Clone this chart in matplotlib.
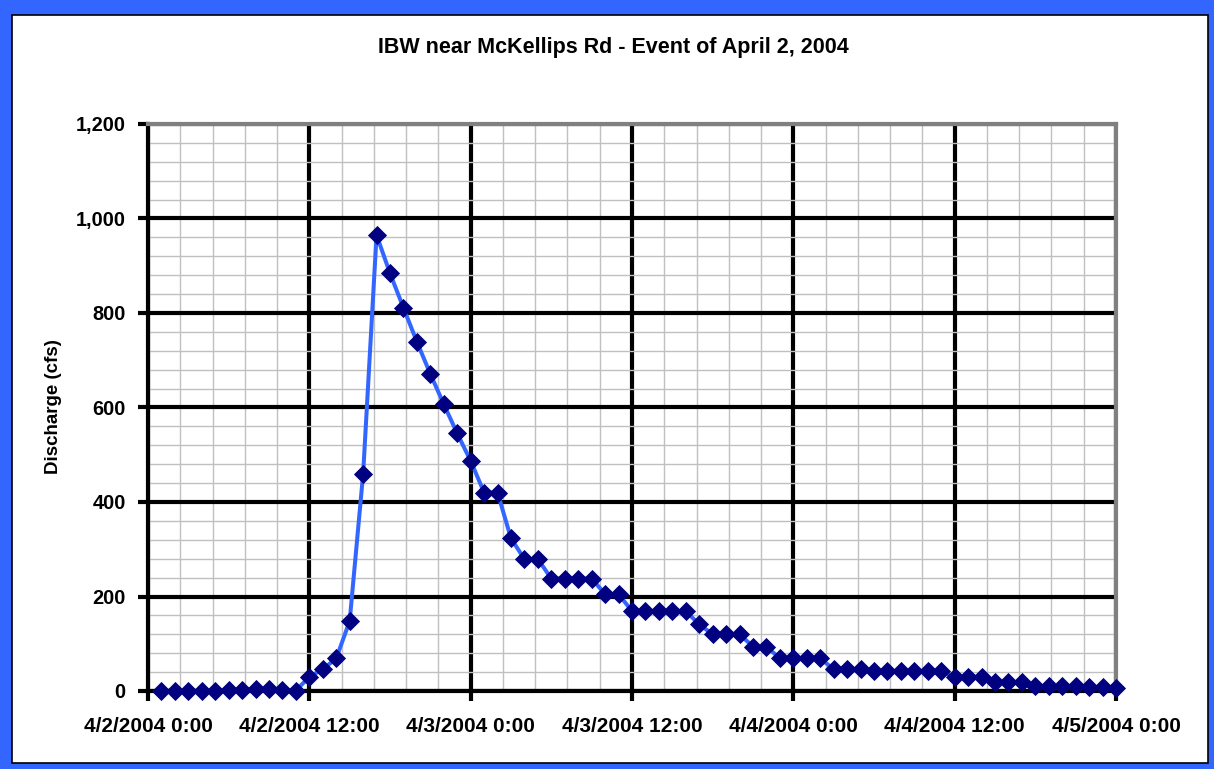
import matplotlib
matplotlib.use("Agg")
import matplotlib.pyplot as plt
import matplotlib.dates as mdates
from matplotlib.ticker import FuncFormatter, MultipleLocator
from matplotlib.patches import Rectangle
import pandas as pd
import numpy as np

plt.rcParams['font.family'] = ['Liberation Sans', 'DejaVu Sans']

title = "IBW near McKellips Rd - Event of April 2, 2004"
ylabel = "Discharge (cfs)"

# hourly timestamps, 4/2/2004 1:00 .. 4/5/2004 0:00
times = pd.date_range("2004-04-02 01:00", "2004-04-05 00:00", freq="h")
discharge = [0, 0, 0, 0, 0, 2, 3, 5, 5, 2, 1,
             30, 46, 69, 148, 459, 965, 884, 811, 739, 671, 607,
             545, 487, 420, 420, 323, 279, 279, 238, 238, 238, 238,
             205, 205, 169, 169, 169, 169, 169, 141, 120, 120, 120,
             94, 94, 69, 69, 69, 69, 46, 46, 46, 42, 42, 42, 42, 42, 42,
             30, 30, 30, 18, 18, 18, 11, 10, 10, 10, 9, 8, 7]

xtick_times = pd.date_range("2004-04-02 00:00", "2004-04-05 00:00", freq="12h")
xtick_labels = ["4/2/2004 0:00", "4/2/2004 12:00", "4/3/2004 0:00",
                "4/3/2004 12:00", "4/4/2004 0:00", "4/4/2004 12:00",
                "4/5/2004 0:00"]
yticks = [0, 200, 400, 600, 800, 1000, 1200]

W, H = 1214, 769
fig = plt.figure(figsize=(W / 100, H / 100), dpi=100)
fig.patch.set_facecolor("#3366FF")
fig.patches.append(Rectangle((12 / W, 1 - 763 / H), (1208 - 12) / W, (763 - 15) / H,
                             transform=fig.transFigure, facecolor="white",
                             edgecolor="black", linewidth=1.2, zorder=-5))

ax = fig.add_axes([148 / W, 1 - 691 / H, (1116 - 148) / W, (691 - 124) / H])
ax.set_facecolor("white")

ax.plot(times, discharge, color="#3366FF", linewidth=2.9, marker="D",
        markersize=9.5, markerfacecolor="#000080", markeredgecolor="#000080",
        markeredgewidth=0.6, clip_on=False, zorder=5)

x0 = xtick_times[0]
x1 = xtick_times[-1]
ax.set_xlim(mdates.date2num(x0), mdates.date2num(x1))
ax.set_ylim(0, 1200)

ax.set_xticks(mdates.date2num(xtick_times))
ax.set_xticklabels(xtick_labels)
ax.xaxis.set_minor_locator(MultipleLocator(2.4 / 24))
ax.set_yticks(yticks)
ax.yaxis.set_major_formatter(FuncFormatter(lambda v, p: f"{v:,.0f}"))
ax.yaxis.set_minor_locator(MultipleLocator(40))

ax.grid(which="minor", color="#c0c0c0", linewidth=1.0, zorder=1)
ax.grid(which="major", color="black", linewidth=3.0, zorder=2)
ax.set_axisbelow(True)

for lab in ax.get_xticklabels():
    lab.set_fontweight("bold")
    lab.set_fontsize(15)
for lab in ax.get_yticklabels():
    lab.set_fontweight("bold")
    lab.set_fontsize(14.4)

ax.tick_params(which="major", length=7, width=3, color="black", direction="out")
ax.tick_params(axis="x", which="major", pad=12)
ax.tick_params(axis="y", which="major", pad=9)
ax.tick_params(which="minor", length=0)

for side in ["left", "bottom"]:
    ax.spines[side].set_linewidth(3.0)
    ax.spines[side].set_color("black")
for side in ["top", "right"]:
    ax.spines[side].set_linewidth(3.0)
    ax.spines[side].set_color("#808080")

fig.text(613 / W, 1 - 48 / H, title, ha="center", va="center",
         fontsize=15.5, fontweight="bold")
fig.text(53 / W, 1 - 407 / H, ylabel, ha="center", va="center",
         rotation=90, fontsize=13.5, fontweight="bold")

fig.savefig("out.png", dpi=100, facecolor=fig.get_facecolor())
